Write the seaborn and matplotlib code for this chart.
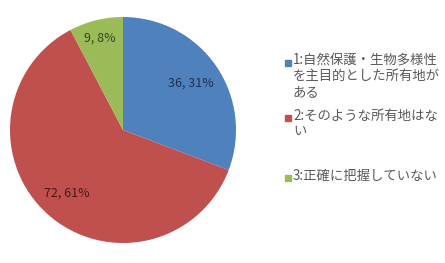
import matplotlib
matplotlib.use("Agg")
import matplotlib.pyplot as plt
import seaborn as sns
import numpy as np
import pandas as pd

categories = ["1:自然保護・生物多様性\nを主目的とした所有地が\nある",
              "2:そのような所有地はな\nい",
              "3:正確に把握していない"]
counts = [36, 72, 9]
percents = [31, 61, 8]

sns.set_theme(style="white")
plt.rcParams['font.family'] = ['Noto Sans CJK JP', 'DejaVu Sans']

colors = ["#4F81BD", "#C0504D", "#9BBB59"]
label_colors = ["#1d2f4f", "#4a1615", "#33461a"]
label_dist = [0.73, 0.75, 0.84]

df = pd.DataFrame({"cat": categories, "n": counts, "pct": percents})

fig = plt.figure(figsize=(4.45, 2.63), dpi=100)
fig.patch.set_facecolor("white")
ax = fig.add_axes([9/445, 20/263, 228/445, 226/263])

wedges, _ = ax.pie(df["n"], colors=colors, startangle=90, counterclock=False,
                   wedgeprops=dict(linewidth=0))
ax.set_aspect("equal")
ax.set_xlim(-1.0, 1.0)
ax.set_ylim(-1.0, 1.0)

for w, n, p, lc, d in zip(wedges, df["n"], df["pct"], label_colors, label_dist):
    ang = np.deg2rad((w.theta1 + w.theta2) / 2)
    ax.text(d * np.cos(ang), d * np.sin(ang), f"{n}, {p}%", ha="center", va="center",
            fontsize=9, color=lc)

# legend
entry_y = [62, 117, 177]
for cat, c, y in zip(categories, colors, entry_y):
    fig.patches.append(plt.Rectangle(((285)/445, 1 - (y + 3.5)/263), 6/445, 6/263,
                                     transform=fig.transFigure, color=c, figure=fig))
    fig.text(293/445, 1 - (y - 8)/263, cat, ha="left", va="top", fontsize=9.6,
             color="#595959", linespacing=1.12)

fig.savefig("out.png", dpi=100, facecolor="white")
